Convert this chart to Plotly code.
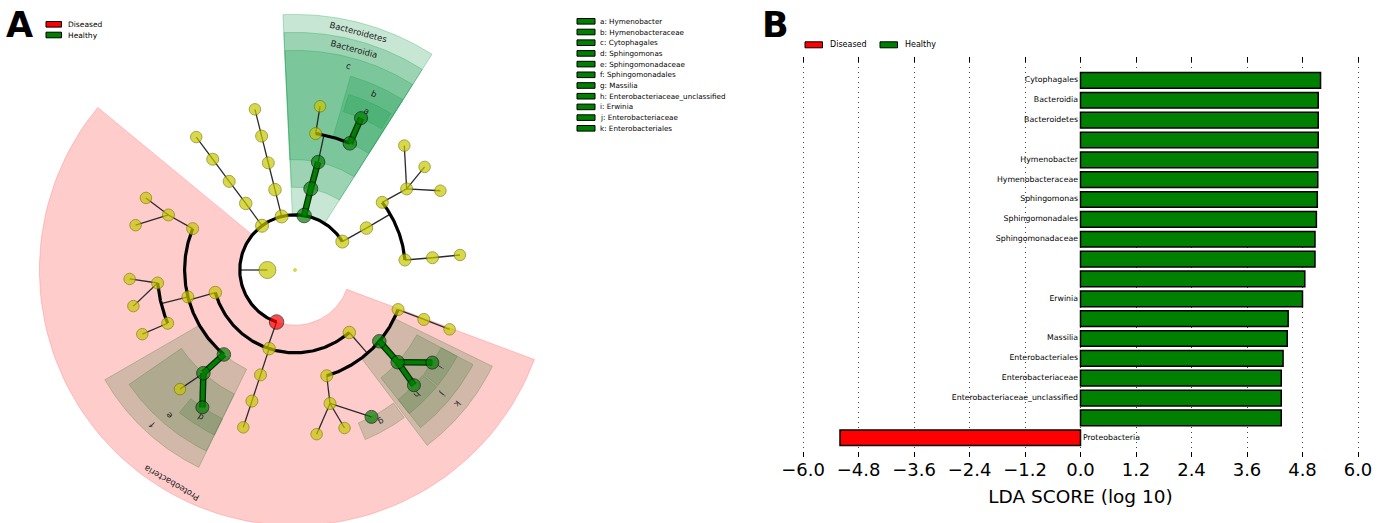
import numpy as np
import plotly.graph_objects as go

# ---------------- Panel B : LDA scores ----------------
lda_taxa = ["Cytophagales", "Bacteroidia", "Bacteroidetes", "", "Hymenobacter",
            "Hymenobacteraceae", "Sphingomonas", "Sphingomonadales", "Sphingomonadaceae",
            "", "", "Erwinia", "", "Massilia", "Enterobacteriales", "Enterobacteriaceae",
            "Enterobacteriaceae_unclassified", "", "Proteobacteria"]
lda_scores = [5.19, 5.14, 5.14, 5.14, 5.13, 5.13, 5.12, 5.10, 5.07, 5.07,
              4.85, 4.80, 4.49, 4.47, 4.38, 4.34, 4.34, 4.34, -5.20]
lda_groups = ["Healthy"] * 18 + ["Diseased"]
lda_ticks = [-6.0, -4.8, -3.6, -2.4, -1.2, 0.0, 1.2, 2.4, 3.6, 4.8, 6.0]

# ---------------- Panel A : cladogram tree ----------------
node_ids = ["center", "Bacteria",
            "p1", "p1c", "p1o", "p1f", "p1g",
            "p2", "p2c", "p2o", "p2f", "p2g",
            "Bacteroidetes", "Bacteroidia", "Cytophagales", "cyto_f2", "cyto_g2",
            "Hymenobacteraceae", "Hymenobacter",
            "p4", "p4c", "p4o1", "p4f1", "p4g1", "p4g2", "p4g3", "p4o2", "p4f2", "p4g4",
            "Proteobacteria", "Alpha", "a_o1", "a_f1", "a_g1", "a_g2",
            "a_o2", "a_f2", "a_g3", "a_g4", "a_f3", "a_g5",
            "Sphingomonadales", "Sphingomonadaceae", "s_g1", "Sphingomonas",
            "Beta", "b_o", "b_f", "b_g",
            "Gamma", "g_o1", "g_f1", "g_g1", "g_g2", "Massilia",
            "Enterobacteriales", "Enterobacteriaceae", "Erwinia",
            "Enterobacteriaceae_unclassified", "g_o3", "g_f3", "g_g3"]
node_parent = [None, None,
               1, 2, 3, 4, 5,
               1, 7, 8, 9, 10,
               1, 12, 13, 14, 15,
               14, 17,
               1, 19, 20, 21, 22, 22, 22, 20, 26, 27,
               1, 29, 30, 31, 32, 32,
               30, 35, 36, 36, 35, 39,
               30, 41, 42, 42,
               29, 45, 46, 47,
               29, 49, 50, 51, 51, 51,
               49, 55, 56,
               56, 49, 59, 60]
node_level = [-1, 0,
              1, 2, 3, 4, 5,
              1, 2, 3, 4, 5,
              1, 2, 3, 4, 5,
              4, 5,
              1, 2, 3, 4, 5, 5, 5, 3, 4, 5,
              1, 2, 3, 4, 5, 5,
              3, 4, 5, 5, 4, 5,
              3, 4, 5, 5,
              2, 3, 4, 5,
              2, 3, 4, 5, 5, 5,
              3, 4, 5,
              5, 3, 4, 5]
node_angle = [0, 180,
              126.7, 126.5, 126.6, 126.6, 126.6,
              104, 104, 104, 104, 104,
              80.5, 79, 77.9, 81.4, 81.3,
              66.6, 66.5,
              31, 30.4, 37.8, 36, 48.7, 38.5, 28.6, 5.2, 5.1, 5.2,
              250.5, 195.8, 158, 156.5, 154.2, 164.3,
              194.1, 185.4, 183.1, 192.6, 202.7, 202.8,
              229.9, 228.4, 226, 236,
              251.8, 251.8, 251.8, 251.8,
              311, 286.7, 284.7, 277.5, 287.4, 297.5,
              319.8, 318.1, 326,
              315.9, 339, 339, 339]
node_group = ["none", "none",
              "none", "none", "none", "none", "none",
              "none", "none", "none", "none", "none",
              "Healthy", "Healthy", "Healthy", "none", "none",
              "Healthy", "Healthy",
              "none", "none", "none", "none", "none", "none", "none", "none", "none", "none",
              "Diseased", "none", "none", "none", "none", "none",
              "none", "none", "none", "none", "none", "none",
              "Healthy", "Healthy", "none", "Healthy",
              "none", "none", "none", "none",
              "none", "none", "none", "none", "none", "Healthy",
              "Healthy", "Healthy", "Healthy",
              "Healthy", "none", "none", "none"]

# shaded clades: label, level, angular start/end (degrees), group
clade_label = ["Proteobacteria", "Bacteroidetes", "Bacteroidia", "c", "b", "a",
               "f", "e", "d", "g", "k", "j", "i", "h"]
clade_level = [1, 1, 2, 3, 4, 5, 3, 4, 5, 5, 3, 4, 5, 5]
clade_start = [140.5, 57.6, 57.6, 57.6, 57.6, 58.5, 210, 214.6, 231, 292.5, 307, 308.5, 321, 308.5]
clade_end = [339.5, 92.7, 92.7, 92.7, 74, 73, 244, 243.9, 244, 306.5, 334, 332, 332, 320.5]
clade_group = ["Diseased", "Healthy", "Healthy", "Healthy", "Healthy", "Healthy",
               "Healthy", "Healthy", "Healthy", "Healthy", "Healthy", "Healthy", "Healthy", "Healthy"]

key_letters = ["a", "b", "c", "d", "e", "f", "g", "h", "i", "j", "k"]
key_names = ["Hymenobacter", "Hymenobacteraceae", "Cytophagales", "Sphingomonas",
             "Sphingomonadaceae", "Sphingomonadales", "Massilia",
             "Enterobacteriaceae_unclassified", "Erwinia", "Enterobacteriaceae",
             "Enterobacteriales"]
groups = ["Diseased", "Healthy"]

# ---------------- styling / geometry ----------------
FONT = "DejaVu Sans"
W, H = 1387, 523
RED, GREEN, YELLOW = "#FF0000", "#008000", "#C8C800"
CX, CY = 295.0, 270.0
STEP = 27.6
BAND = 18.0
shade = {"Healthy": "rgba(20,155,75,0.24)", "Diseased": "rgba(255,0,0,0.2)"}
shade_edge = {"Healthy": "rgba(20,155,75,0.3)", "Diseased": "rgba(255,90,90,0.3)"}
gcol = {"Healthy": GREEN, "Diseased": RED, "none": YELLOW}


def ring(level):
    return STEP * (level + 1) if level >= 0 else 0.0


def outer(level):
    return ring(5) + BAND * (6 - level)


def pol(r, deg):
    t = np.radians(deg)
    return CX + r * np.cos(t), CY - r * np.sin(t)


fig = go.Figure()
AX = dict(xaxis="x2", yaxis="y2")

# clade shading sectors (deepest clades first, phylum-level shading on top)
order = sorted(range(len(clade_label)), key=lambda k: -clade_level[k])
for k in order:
    lev, a0, a1, g = clade_level[k], clade_start[k], clade_end[k], clade_group[k]
    angs = np.linspace(a0, a1, 90)
    ro, ri = outer(lev), ring(lev)
    xo, yo = pol(ro, angs)
    xi, yi = pol(ri, angs[::-1])
    xs = list(xo) + list(xi) + [xo[0]]
    ys = list(yo) + list(yi) + [yo[0]]
    fig.add_trace(go.Scatter(x=xs, y=ys, mode="lines", fill="toself",
                             fillcolor=shade[g], line=dict(color=shade_edge[g], width=1),
                             hoverinfo="skip", showlegend=False, **AX))

# edges
children = {i: [] for i in range(len(node_ids))}
for i, p in enumerate(node_parent):
    if p is not None:
        children[p].append(i)

thin_x, thin_y, arc_x, arc_y, grn_x, grn_y = [], [], [], [], [], []
for p, ch in children.items():
    if not ch:
        continue
    rp = ring(node_level[p])
    if node_level[p] <= 3 and len(ch) > 1:
        rc = ring(node_level[ch[0]])
        x0, y0 = pol(rp, node_angle[p])
        x1, y1 = pol(rc, node_angle[p])
        thin_x += [x0, x1, None]
        thin_y += [y0, y1, None]
        angs = [node_angle[c] for c in ch] + [node_angle[p]]
        aa = np.linspace(min(angs), max(angs), 120)
        ax_, ay_ = pol(rc, aa)
        arc_x += list(ax_) + [None]
        arc_y += list(ay_) + [None]
    else:
        for c in ch:
            x0, y0 = pol(rp, node_angle[p])
            x1, y1 = pol(ring(node_level[c]), node_angle[c])
            if node_group[p] == "Healthy" and node_group[c] == "Healthy":
                grn_x += [x0, x1, None]
                grn_y += [y0, y1, None]
            else:
                thin_x += [x0, x1, None]
                thin_y += [y0, y1, None]

fig.add_trace(go.Scatter(x=thin_x, y=thin_y, mode="lines", line=dict(color="#2a2a2a", width=1.3),
                         hoverinfo="skip", showlegend=False, **AX))
fig.add_trace(go.Scatter(x=arc_x, y=arc_y, mode="lines", line=dict(color="black", width=3.2),
                         hoverinfo="skip", showlegend=False, **AX))
fig.add_trace(go.Scatter(x=grn_x, y=grn_y, mode="lines", line=dict(color="#0b2a0b", width=6.5),
                         hoverinfo="skip", showlegend=False, **AX))
fig.add_trace(go.Scatter(x=grn_x, y=grn_y, mode="lines", line=dict(color=GREEN, width=4),
                         hoverinfo="skip", showlegend=False, **AX))

# nodes
size_by_level = {-1: 3, 0: 17, 1: 13, 2: 12.5, 3: 12, 4: 12, 5: 11.5}
nx, ny, ns, nc, nl = [], [], [], [], []
for i in range(len(node_ids)):
    x, y = pol(ring(node_level[i]), node_angle[i])
    nx.append(x)
    ny.append(y)
    s = size_by_level[node_level[i]]
    if node_group[i] != "none":
        s += 1.5
    ns.append(s)
    nc.append(gcol[node_group[i]])
    if node_level[i] < 0:
        nl.append(YELLOW)
    elif node_group[i] == "none":
        nl.append("#7d7d00")
    else:
        nl.append("#111111")
fig.add_trace(go.Scatter(x=nx, y=ny, mode="markers", text=node_ids, hoverinfo="text",
                         marker=dict(size=ns, color=nc, line=dict(color=nl, width=1)),
                         showlegend=False, **AX))

annotations = []
# clade labels
for lab, lev, a0, a1 in zip(clade_label, clade_level, clade_start, clade_end):
    am = 0.5 * (a0 + a1)
    x, y = pol(outer(lev) - BAND / 2, am)
    annotations.append(dict(x=x, y=y, xref="x2", yref="y2", text=lab, showarrow=False,
                            textangle=90 - am, font=dict(family=FONT, size=8.5, color="#222")))

# panel A legend (Diseased/Healthy)
shapes = []
for k, g in enumerate(groups):
    yc = 24.3 + 10.7 * k
    shapes.append(dict(type="rect", xref="x2", yref="y2", x0=46, x1=61.5, y0=yc - 2.8, y1=yc + 2.8,
                       fillcolor=gcol[g], line=dict(color="black", width=1)))
    annotations.append(dict(x=66, y=yc, xref="x2", yref="y2", text=g, showarrow=False,
                            xanchor="left", font=dict(family=FONT, size=7.5, color="black")))
# letter key legend
for k, (l, nm) in enumerate(zip(key_letters, key_names)):
    yc = 21.3 + 10.7 * k
    shapes.append(dict(type="rect", xref="x2", yref="y2", x0=577, x1=595, y0=yc - 2.8, y1=yc + 2.8,
                       fillcolor=GREEN, line=dict(color="black", width=1)))
    annotations.append(dict(x=598, y=yc, xref="x2", yref="y2", text=f"{l}: {nm}", showarrow=False,
                            xanchor="left", font=dict(family=FONT, size=7.2, color="black")))
# panel B legend
for k, g in enumerate(groups):
    x0 = 805 + 75 * k
    shapes.append(dict(type="rect", xref="x2", yref="y2", x0=x0, x1=x0 + 17.5, y0=41.8, y1=47.8,
                       fillcolor=gcol[g], line=dict(color="black", width=1)))
    annotations.append(dict(x=x0 + 23, y=44.8, xref="x2", yref="y2", text=g, showarrow=False,
                            xanchor="left", font=dict(family=FONT, size=8, color="black")))
# panel letters
annotations.append(dict(x=19, y=25, xref="x2", yref="y2", text="<b>A</b>", showarrow=False,
                        font=dict(family=FONT, size=35, color="black")))
annotations.append(dict(x=775, y=25, xref="x2", yref="y2", text="<b>B</b>", showarrow=False,
                        font=dict(family=FONT, size=35, color="black")))

# ---------------- Panel B bars ----------------
ypos = list(range(len(lda_taxa)))
fig.add_trace(go.Bar(x=lda_scores, y=ypos, orientation="h",
                     marker=dict(color=[gcol[g] for g in lda_groups], line=dict(color="black", width=1.5)),
                     hovertext=lda_taxa, showlegend=False, xaxis="x", yaxis="y"))
pos_idx = [i for i, v in enumerate(lda_scores) if v >= 0]
neg_idx = [i for i, v in enumerate(lda_scores) if v < 0]
fig.add_trace(go.Scatter(x=[0] * len(pos_idx), y=pos_idx, mode="text",
                         text=[lda_taxa[i] + " " for i in pos_idx], textposition="middle left",
                         textfont=dict(family=FONT, size=7.8, color="black"),
                         hoverinfo="skip", showlegend=False, xaxis="x", yaxis="y"))
fig.add_trace(go.Scatter(x=[0] * len(neg_idx), y=neg_idx, mode="text",
                         text=[" " + lda_taxa[i] for i in neg_idx], textposition="middle right",
                         textfont=dict(family=FONT, size=7.8, color="black"),
                         hoverinfo="skip", showlegend=False, xaxis="x", yaxis="y"))

px_per = 46.3
x_left, x_right = 803, 1358
pad = 0.06
fig.update_layout(
    template="none",
    width=W, height=H, margin=dict(l=0, r=0, t=0, b=0, pad=0), autosize=False,
    paper_bgcolor="white", plot_bgcolor="rgba(0,0,0,0)",
    bargap=0.21, showlegend=False,
    font=dict(family=FONT, color="black"),
    xaxis=dict(domain=[(x_left - pad * px_per) / W, (x_right + pad * px_per) / W],
               range=[-6 - pad, 6 + pad], anchor="y", automargin=False,
               tickmode="array", tickvals=lda_ticks, tickformat=".1f",
               ticks="inside", ticklen=5, tickcolor="black", mirror="ticks",
               showline=False, zeroline=False,
               showgrid=True, gridcolor="#444", griddash="1px,4px", gridwidth=1.2,
               tickfont=dict(family=FONT, size=18, color="black"),
               title=dict(text="LDA SCORE (log 10)", standoff=11,
                          font=dict(family=FONT, size=18.5, color="black"))),
    yaxis=dict(domain=[1 - 457 / H, 1 - 57 / H], range=[18.97, -1.18], anchor="x", automargin=False,
               showticklabels=False, ticks="", showgrid=False, zeroline=False, showline=False),
    xaxis2=dict(domain=[0, 1], range=[0, W], anchor="y2", visible=False, automargin=False),
    yaxis2=dict(domain=[0, 1], range=[H, 0], anchor="x2", visible=False, automargin=False),
    annotations=annotations, shapes=shapes,
)

fig.write_html("out.html")
